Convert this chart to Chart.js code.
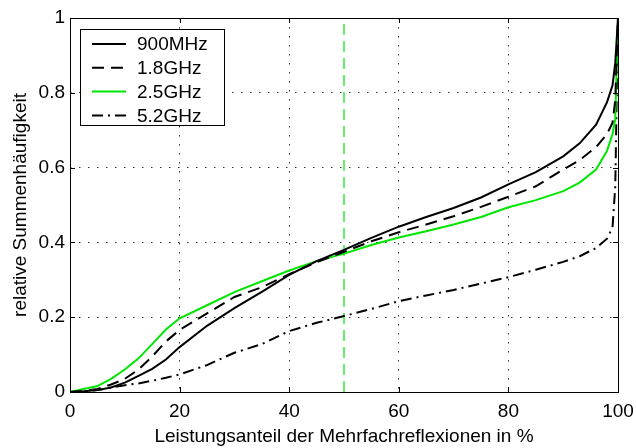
<!DOCTYPE html>
<html>
<head>
<meta charset="utf-8">
<script src="https://cdn.jsdelivr.net/npm/chart.js@4.4.1/dist/chart.umd.min.js"></script>
<style>
  html, body { margin: 0; padding: 0; background: #fff; }
  canvas { display: block; }
</style>
</head>
<body>
<canvas id="grafico" width="636" height="448"></canvas>
<script>
// Leistungsanteil der Mehrfachreflexionen in %
const anteil = [0, 2.5, 5, 7.5, 10, 12.5, 15, 17.5, 20, 25, 30, 35, 40, 45, 50, 55, 60, 65, 70, 75, 80, 85, 90, 93, 96, 98, 99, 99.5, 100];

const serien = ['900MHz', '1.8GHz', '2.5GHz', '5.2GHz'];
const werte900 = [0, 0.002, 0.005, 0.012, 0.025, 0.043, 0.062, 0.087, 0.120, 0.177, 0.224, 0.268, 0.313, 0.350, 0.380, 0.412, 0.442, 0.468, 0.492, 0.520, 0.555, 0.588, 0.630, 0.665, 0.715, 0.775, 0.82, 0.88, 1.0];
const werte18 = [0, 0.003, 0.008, 0.020, 0.035, 0.060, 0.095, 0.135, 0.166, 0.210, 0.254, 0.280, 0.315, 0.347, 0.375, 0.403, 0.427, 0.448, 0.470, 0.495, 0.522, 0.550, 0.595, 0.620, 0.655, 0.690, 0.72, 0.78, 1.0];
const werte25 = [0, 0.008, 0.016, 0.035, 0.060, 0.090, 0.128, 0.167, 0.197, 0.232, 0.267, 0.296, 0.325, 0.350, 0.370, 0.393, 0.413, 0.430, 0.448, 0.468, 0.494, 0.513, 0.537, 0.560, 0.595, 0.645, 0.69, 0.73, 1.0];
const werte52 = [0, 0.002, 0.005, 0.012, 0.018, 0.023, 0.030, 0.038, 0.047, 0.072, 0.105, 0.128, 0.163, 0.185, 0.203, 0.222, 0.243, 0.258, 0.273, 0.290, 0.307, 0.327, 0.348, 0.363, 0.385, 0.410, 0.44, 0.55, 1.0];

const markierung = 50; // senkrechte Linie bei 50 %
const xTicks = [0, 20, 40, 60, 80, 100];
const yTicks = [0, 0.2, 0.4, 0.6, 0.8, 1];

const schrift = "'Liberation Sans', Arial, Helvetica, sans-serif";
const gruen = '#00e600';

function punkte(ys) {
    return ys.map((y, i) => ({ x: anteil[i], y: y }));
}

// Rahmen und nach innen zeigende Striche (Matlab-Stil)
const rahmen = {
    id: 'rahmen',
    afterDatasetsDraw(chart) {
        const { ctx, chartArea: a, scales } = chart;
        ctx.save();
        ctx.strokeStyle = '#000';
        ctx.lineWidth = 1;
        ctx.setLineDash([]);
        ctx.strokeRect(a.left + 0.5, a.top + 0.5, a.right - a.left, a.bottom - a.top);
        ctx.beginPath();
        xTicks.forEach(v => {
            const px = Math.round(scales.x.getPixelForValue(v)) + 0.5;
            ctx.moveTo(px, a.bottom); ctx.lineTo(px, a.bottom - 5);
            ctx.moveTo(px, a.top); ctx.lineTo(px, a.top + 5);
        });
        yTicks.forEach(v => {
            const py = Math.round(scales.y.getPixelForValue(v)) + 0.5;
            ctx.moveTo(a.left, py); ctx.lineTo(a.left + 5, py);
            ctx.moveTo(a.right, py); ctx.lineTo(a.right - 5, py);
        });
        ctx.stroke();
        ctx.restore();
    }
};

// Legende innerhalb der Achsen oben links
const legende = {
    id: 'legende',
    afterDraw(chart) {
        const { ctx, chartArea: a } = chart;
        const x0 = a.left + 10, y0 = a.top + 11;
        ctx.save();
        ctx.fillStyle = '#fff';
        ctx.fillRect(x0, y0, 144, 96);
        ctx.strokeStyle = '#000';
        ctx.lineWidth = 1;
        ctx.setLineDash([]);
        ctx.strokeRect(x0 + 0.5, y0 + 0.5, 144, 96);
        ctx.font = '19px ' + schrift;
        ctx.textBaseline = 'middle';
        serien.forEach((name, i) => {
            const ds = chart.data.datasets[i];
            const y = y0 + 15 + i * 23.8;
            ctx.strokeStyle = ds.borderColor;
            ctx.lineWidth = ds.borderWidth;
            ctx.setLineDash(ds.borderDash || []);
            ctx.beginPath();
            ctx.moveTo(x0 + 12, y);
            ctx.lineTo(x0 + 46, y);
            ctx.stroke();
            ctx.fillStyle = '#000';
            ctx.fillText(ds.label, x0 + 57, y + 1);
        });
        ctx.restore();
    }
};

const ctx = document.getElementById('grafico').getContext('2d');

const grafico = new Chart(ctx, {
    type: 'line',
    data: {
        datasets: [
            { label: serien[0], data: punkte(werte900), borderColor: '#000', borderWidth: 2, borderDash: [] },
            { label: serien[1], data: punkte(werte18), borderColor: '#000', borderWidth: 2, borderDash: [12, 7] },
            { label: serien[2], data: punkte(werte25), borderColor: gruen, borderWidth: 2, borderDash: [] },
            { label: serien[3], data: punkte(werte52), borderColor: '#000', borderWidth: 2, borderDash: [11, 5, 2, 5] },
            { label: 'Markierung', data: [{ x: markierung, y: 0 }, { x: markierung, y: 1 }], borderColor: gruen, borderWidth: 1.2, borderDash: [11, 6] }
        ]
    },
    options: {
        responsive: false,
        animation: false,
        devicePixelRatio: 1,
        layout: { padding: { top: 18, right: 18, left: 0, bottom: 0 } },
        elements: { point: { radius: 0 }, line: { tension: 0, fill: false } },
        plugins: {
            legend: { display: false },
            tooltip: { enabled: false }
        },
        scales: {
            x: {
                type: 'linear',
                min: 0,
                max: 100,
                afterBuildTicks: s => { s.ticks = xTicks.map(v => ({ value: v })); },
                afterFit: s => { s.height = 56; s.paddingLeft = 0; s.paddingRight = 0; },
                ticks: {
                    color: '#000',
                    font: { family: schrift, size: 19 },
                    padding: 8,
                    maxRotation: 0,
                    callback: v => String(v)
                },
                grid: { color: '#333', lineWidth: 1, drawTicks: false },
                border: { display: false, dash: [1.5, 7.5] },
                title: {
                    display: true,
                    text: 'Leistungsanteil der Mehrfachreflexionen in %',
                    color: '#000',
                    font: { family: schrift, size: 19 },
                    padding: { top: 0, bottom: 0 }
                }
            },
            y: {
                type: 'linear',
                min: 0,
                max: 1,
                afterBuildTicks: s => { s.ticks = yTicks.map(v => ({ value: v })); },
                afterFit: s => { s.width = 70; s.paddingTop = 0; s.paddingBottom = 0; },
                ticks: {
                    color: '#000',
                    font: { family: schrift, size: 19 },
                    padding: 5,
                    callback: v => String(v)
                },
                grid: { color: '#333', lineWidth: 1, drawTicks: false },
                border: { display: false, dash: [1.5, 7.5] },
                title: {
                    display: true,
                    text: 'relative Summenhäufigkeit',
                    color: '#000',
                    font: { family: schrift, size: 19 },
                    padding: { top: 9, bottom: 0 }
                }
            }
        }
    },
    plugins: [rahmen, legende]
});
</script>
</body>
</html>
